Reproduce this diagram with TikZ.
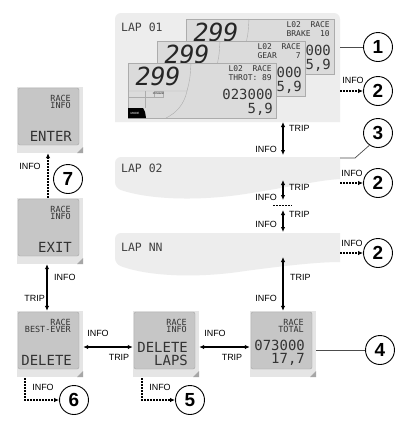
\documentclass[tikz,border=0pt]{standalone}
\usepackage{fontspec}
\setmainfont{Liberation Sans}
\newfontfamily\lcdfont{DejaVu Sans Mono}
\usetikzlibrary{arrows.meta,positioning}
\tikzset{
  >={Latex[length=5bp,width=4.5bp]},
  btn/.style={font=\fontsize{9}{9}\selectfont,inner sep=0pt},
  num/.style={circle,draw,line width=0.9bp,minimum size=29bp,inner sep=0pt,font=\fontsize{19}{19}\selectfont\bfseries},
  lcd/.style={font=\lcdfont\fontsize{8.5}{8.5}\selectfont,text=black!80,inner sep=0pt},
  lcdtop/.style={font=\lcdfont\fontsize{8}{8}\selectfont,text=black!80,inner sep=0pt,anchor=east},
  lcdbig/.style={font=\lcdfont\fontsize{14}{13}\selectfont,text=black!80,inner sep=0pt},
  lapname/.style={font=\lcdfont\fontsize{11.5}{11.5}\selectfont,text=black!75,inner sep=0pt,anchor=west},
  spd/.style={font=\lcdfont\itshape\fontsize{25}{25}\selectfont,text=black!85,inner sep=0pt},
  band/.style={fill=gray!14},
  topscreen/.style={draw=gray!65,fill=gray!28,minimum width=148bp,minimum height=55bp,inner sep=0pt},
  rscreen/.style={fill=gray!20,minimum width=66bp,minimum height=66bp,inner sep=0pt},
  nav/.style={<->,line width=1.1bp},
  infoarrow/.style={->,line width=1.1bp,dash pattern=on 1.6bp off 1.4bp},
  leader/.style={gray!60!black,line width=0.7bp}
}
\newcommand\lapscreen[5]{%
  \begin{scope}[shift={(#2,#3)}]
    \node[topscreen] (#1) at (74,27.5) {};
    \draw[gray!65] (63,0) .. controls (62,16) .. (59,28) -- (0,28);
    \node[spd] (#1-spd) at (30,13) {299};
    \node[lcdtop] (#1-mode) at (144,6) {L02\ \ RACE};
    \node[lcdtop] (#1-val) at (144,14.5) {#4};
    \node[lcdbig,anchor=east] (#1-odo) at (145,31) {#5};
    \node[lcdbig,anchor=east] (#1-avg) at (145,46) {5,9};
  \end{scope}}
\newcommand\racescreen[6]{%
  \begin{scope}[shift={(#2,#3)}]
    \node[rscreen] (#1) at (33,33) {};
    \draw[gray!70,fill=gray!45,rounded corners=2bp] (1,1) rectangle (62,58);
    \fill[gray!70] (66,60) -- (66,66) -- (60,66) -- cycle;
    \node[lcd,anchor=east] (#1-a) at (54,11) {#4};
    \node[lcd,anchor=east] (#1-b) at (54,18.5) {#5};
    \node[lcdbig,anchor=south east,align=right] (#1-c) at (55,55) {#6};
  \end{scope}}
\begin{document}
\begin{tikzpicture}[x=1bp,y=-1bp]
  \useasboundingbox[fill=white] (0,0) rectangle (411,425);
  \fill[band] (340,122) -- (115,122) [rounded corners=6bp] -- (115,13) -- (340,13) [sharp corners] -- cycle;
  \fill[band] (340,157) [rounded corners=6bp] -- (115,157) -- (115,188) [sharp corners] .. controls (150,200) and (200,201) .. (245,194) .. controls (290,187) and (320,180) .. (340,179) -- cycle;
  \fill[band] (340,233) [rounded corners=6bp] -- (115,233) -- (115,264) [sharp corners] .. controls (150,277) and (200,278) .. (245,271) .. controls (290,265) and (320,262) .. (340,262) -- cycle;
  \node[lapname] (lap1) at (121,27) {LAP 01};
  \node[lapname] (lap2) at (121,168) {LAP 02};
  \node[lapname] (lapn) at (121,247) {LAP NN};
  \lapscreen{brake}{186}{19}{BRAKE\ \ 10}{000}
  \lapscreen{gear}{157}{41}{GEAR\ \ \ \ 7}{000}
  \lapscreen{throt}{128}{63}{THROT:\ 89}{023000}
  \begin{scope}[shift={(128,63)}]
    \draw[gray!65] (0,34) -- (30,34) (17,28) -- (17,45) (26,28) rectangle (35,34);
    \draw[gray!65] (59,28) .. controls (56,42) and (48,50) .. (38,55);
    \fill[black] (0,45) -- (15,45) .. controls (17,48) .. (18,55) -- (0,55) -- cycle;
    \node[text=white,font=\fontsize{3}{3}\selectfont,inner sep=0pt] (modekey) at (7,50) {MODE};
    \node[font=\fontsize{2.5}{2.5}\selectfont,inner sep=0pt] (dyn) at (30.5,31) {DYNAMIC};
  \end{scope}
  \racescreen{enter}{17}{87}{RACE}{INFO}{ENTER}
  \racescreen{exit}{17}{198}{RACE}{INFO}{EXIT}
  \racescreen{best}{17}{311}{RACE}{BEST-EVER}{DELETE}
  \racescreen{laps}{133}{311}{RACE}{INFO}{DELETE\\LAPS}
  \racescreen{total}{250}{311}{RACE}{TOTAL}{073000\\17,7}
  \node[num] (c1) at (378,47) {1};
  \node[num] (c2a) at (378,91) {2};
  \node[num] (c3) at (378,133) {3};
  \node[num] (c2b) at (378,183) {2};
  \node[num] (c2c) at (378,253) {2};
  \node[num] (c4) at (380,350) {4};
  \node[num] (c5) at (190,400) {5};
  \node[num] (c6) at (74,400) {6};
  \node[num] (c7) at (68,179) {7};
  \coordinate (p1) at (340,47);
  \coordinate (p3) at (340,158);
  \draw[leader] (p1) -- (c1);
  \draw[leader] (p3) -- ++(15,0) -- (c3.235);
  \draw[leader] (total.east |- c4) -- (c4);
  \coordinate (i2a) at (340,91);
  \coordinate (i2b) at (340,183);
  \coordinate (i2c) at (340,253);
  \draw[infoarrow] (i2a) -- (c2a);
  \draw[infoarrow] (i2b) -- (c2b);
  \draw[infoarrow] (i2c) -- (c2c);
  \node[btn] (l2a) at (353,80) {INFO};
  \node[btn] (l2b) at (352,173) {INFO};
  \node[btn] (l2c) at (352,243) {INFO};
  \coordinate (a1) at (283,122); \coordinate (b1) at (283,155);
  \coordinate (a2) at (283,180); \coordinate (b2) at (283,200);
  \coordinate (a3) at (283,210); \coordinate (b3) at (283,232);
  \coordinate (a4) at (283,257);
  \draw[nav] (a1) -- (b1);
  \draw[nav] (a2) -- (b2);
  \draw[nav] (a3) -- (b3);
  \draw[nav] (a4) -- (total.north);
  \draw[line width=1bp,dash pattern=on 1.6bp off 1.4bp] (273,205) -- (292,205);
  \node[btn,anchor=west] (t1) at (289,128) {TRIP};
  \node[btn,anchor=east] (n1) at (277,149) {INFO};
  \node[btn,anchor=west] (t2) at (289,187) {TRIP};
  \node[btn,anchor=east] (n2) at (277,197) {INFO};
  \node[btn,anchor=west] (t3) at (289,214) {TRIP};
  \node[btn,anchor=east] (n3) at (277,224) {INFO};
  \node[btn,anchor=west] (t4) at (290,277) {TRIP};
  \node[btn,anchor=east] (n4) at (277,298) {INFO};
  \draw[nav] ([yshift=-3bp]best.east) -- ([yshift=-3bp]laps.west);
  \draw[nav] ([yshift=-3bp]laps.east) -- ([yshift=-3bp]total.west);
  \node[btn] (n5) at (98,333) {INFO};
  \node[btn] (t5) at (119,357) {TRIP};
  \node[btn] (n6) at (215,333) {INFO};
  \node[btn] (t6) at (232,357) {TRIP};
  \draw[infoarrow] ([xshift=-2bp]exit.north) -- ([xshift=-2bp]enter.south);
  \node[btn] (n7) at (30,166) {INFO};
  \draw[nav] ([xshift=-3bp]exit.south) -- ([xshift=-3bp]best.north);
  \node[btn,anchor=west] (n8) at (54,277) {INFO};
  \node[btn,anchor=east] (t8) at (45,298) {TRIP};
  \coordinate (d6) at (25,378);
  \coordinate (d5) at (142,378);
  \draw[infoarrow] (d6) |- (c6);
  \draw[infoarrow] (d5) |- (c5);
  \node[btn] (n9) at (43,387) {INFO};
  \node[btn] (n10) at (160,387) {INFO};
\end{tikzpicture}
\end{document}
